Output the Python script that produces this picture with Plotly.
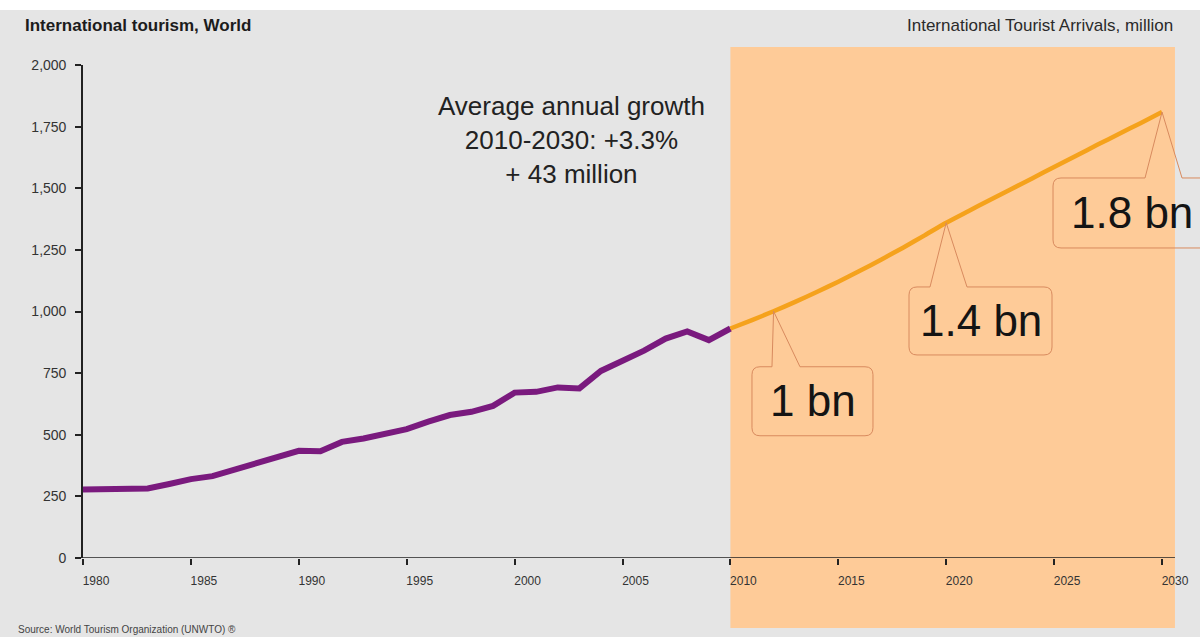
import plotly.graph_objects as go

# International tourist arrivals (million), actual 1980-2010
hist_years = list(range(1980, 2011))
hist_arrivals = [278, 278, 277, 282, 300, 320, 332, 357, 381, 404,
                 435, 433, 471, 485, 505, 523, 553, 580, 593, 617,
                 671, 674, 692, 688, 759, 800, 841, 890, 919, 884, 931]

# Forecast 2010-2030 (million)
fc_years = list(range(2010, 2031))
fc_arrivals = [931, 965, 1001, 1039, 1079, 1121, 1165, 1211, 1259, 1309,
               1360, 1406, 1451, 1496, 1541, 1586, 1631, 1676, 1720, 1764, 1809]

# Milestones called out on the forecast line
milestone_years = [2012, 2020, 2030]
milestone_labels = ["1 bn", "1.4 bn", "1.8 bn"]

y_ticks = [0, 250, 500, 750, 1000, 1250, 1500, 1750, 2000]
x_ticks = [1980, 1985, 1990, 1995, 2000, 2005, 2010, 2015, 2020, 2025, 2030]

X_MIN, X_MAX = 1980, 2031.76
AXIS_END = 2030.6

BG = "#e5e5e5"
PEACH = "#fecb98"
PURPLE = "#7a1a7e"
ORANGE = "#f5a21c"
CALLOUT_LINE = "#d88a5e"

fig = go.Figure()

fig.add_trace(go.Scatter(x=hist_years, y=hist_arrivals, mode="lines",
                         line=dict(color=PURPLE, width=6), hoverinfo="x+y"))
fig.add_trace(go.Scatter(x=fc_years, y=fc_arrivals, mode="lines",
                         line=dict(color=ORANGE, width=4.5, shape="spline", smoothing=0.6),
                         hoverinfo="x+y"))

shapes = []
# white strip along the top edge of the slide
shapes.append(dict(type="rect", xref="paper", yref="paper", x0=-0.1, x1=1.1,
                   y0=1.1116, y1=1.3, fillcolor="white", line=dict(width=0),
                   layer="below"))
# forecast period band
shapes.append(dict(type="rect", xref="x", yref="paper", x0=fc_years[0], x1=AXIS_END,
                   y0=-0.142, y1=1.0365, fillcolor=PEACH, line=dict(width=0),
                   layer="below"))
# x axis line, stopping at the end of the forecast band
shapes.append(dict(type="line", xref="x", yref="y", x0=X_MIN, x1=AXIS_END,
                   y0=0, y1=0, line=dict(color="#222222", width=1.6), layer="above"))


def callout_path(x0, x1, top, bottom, b0, b1, r=8):
    """Rounded box below the anchor with a wedge pointing up to it (pixel offsets)."""
    return (f"M {x0 + r},{top} L {b0},{top} L 0,0 L {b1},{top} L {x1 - r},{top} "
            f"Q {x1},{top} {x1},{top - r} L {x1},{bottom + r} "
            f"Q {x1},{bottom} {x1 - r},{bottom} L {x0 + r},{bottom} "
            f"Q {x0},{bottom} {x0},{bottom + r} L {x0},{top - r} "
            f"Q {x0},{top} {x0 + r},{top} Z")


# box geometry (px relative to the pointed-at point) and text offset
callout_geom = [
    dict(box=(-21.6, 99.4, -55.5, -124.5), wedge=(-1.6, 26.4), text=(39.4, -89.5)),
    dict(box=(-37.2, 105.8, -64.2, -132.2), wedge=(-16.2, 20.8), text=(34.3, -98.2)),
    dict(box=(-109, 53, -65.9, -135.9), wedge=(-17, 20), text=(-30, -100.9)),
]

annotations = []
for yr, label, g in zip(milestone_years, milestone_labels, callout_geom):
    val = fc_arrivals[fc_years.index(yr)]
    x0, x1, top, bottom = g["box"]
    b0, b1 = g["wedge"]
    shapes.append(dict(type="path", xref="x", yref="y",
                       xsizemode="pixel", ysizemode="pixel",
                       xanchor=yr, yanchor=val,
                       path=callout_path(x0, x1, top, bottom, b0, b1),
                       fillcolor="rgba(0,0,0,0)",
                       line=dict(color=CALLOUT_LINE, width=1), layer="above"))
    annotations.append(dict(x=yr, y=val, xref="x", yref="y",
                            xshift=g["text"][0], yshift=g["text"][1],
                            text=label, showarrow=False,
                            xanchor="center", yanchor="middle",
                            font=dict(family="Liberation Sans, Arial",
                                      size=44, color="#141414")))

annotations += [
    dict(x=-0.0537, y=1.0811, xref="paper", yref="paper", xanchor="left",
         yanchor="middle", showarrow=False, text="<b>International tourism, World</b>",
         font=dict(family="Liberation Sans, Arial", size=17, color="#1c1c1c")),
    dict(x=0.9776, y=1.0811, xref="paper", yref="paper", xanchor="right",
         yanchor="middle", showarrow=False, text="International Tourist Arrivals, million",
         font=dict(family="Liberation Sans, Arial", size=17, color="#2a2a2a")),
    dict(x=0.4369, y=0.8479, xref="paper", yref="paper", xanchor="center",
         yanchor="middle", showarrow=False, align="center",
         text="Average annual growth<br>2010-2030: +3.3%<br>+ 43 million",
         font=dict(family="Liberation Sans, Arial", size=26, color="#222222")),
    dict(x=-0.0600, y=-0.1300, xref="paper", yref="paper", xanchor="left",
         yanchor="top", showarrow=False,
         text="Source: World Tourism Organization (UNWTO) \u00ae",
         font=dict(family="Liberation Sans, Arial", size=10, color="#444444")),
]

fig.update_layout(
    width=1200, height=637,
    margin=dict(l=83, r=0, t=65, b=79),
    paper_bgcolor=BG, plot_bgcolor=BG,
    showlegend=False,
    shapes=shapes,
    annotations=annotations,
    xaxis=dict(range=[X_MIN, X_MAX], tickvals=x_ticks, ticktext=[str(t) for t in x_ticks],
               showgrid=False, zeroline=False, showline=False,
               ticks="outside", ticklen=6, tickwidth=1.5, tickcolor="#222222",
               ticklabelshift=13, ticklabelstandoff=6,
               tickfont=dict(family="Liberation Sans, Arial", size=12, color="#333333")),
    yaxis=dict(range=[0, 2000], tickvals=y_ticks, tickformat=",d",
               showgrid=False, zeroline=False, showline=True,
               linecolor="#222222", linewidth=1.6,
               ticks="outside", ticklen=6, tickwidth=1.5, tickcolor="#222222",
               ticklabelstandoff=6,
               tickfont=dict(family="Liberation Sans, Arial", size=14, color="#333333")),
)

fig.write_html("out.html", config=dict(displayModeBar=False))
